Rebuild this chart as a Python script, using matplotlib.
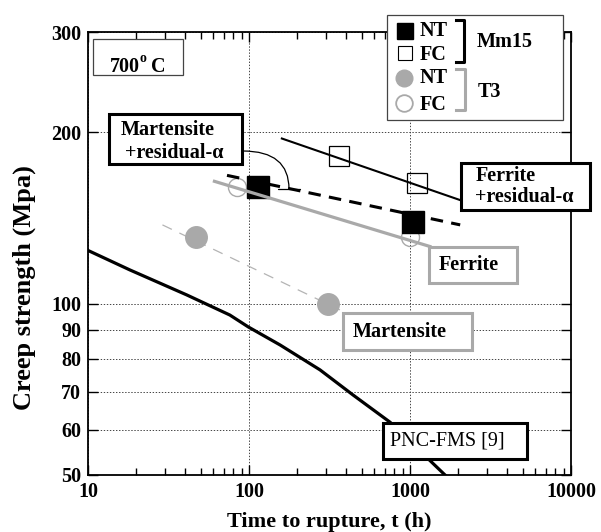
import matplotlib

matplotlib.use("Agg")
import matplotlib.pyplot as plt
from matplotlib.lines import Line2D
from matplotlib.patches import Rectangle, FancyArrowPatch
from matplotlib.ticker import LogLocator, NullLocator, NullFormatter

plt.rcParams["font.family"] = ["Liberation Serif", "DejaVu Serif"]
plt.rcParams["font.weight"] = "bold"
plt.rcParams["axes.labelweight"] = "bold"
plt.rcParams["lines.scale_dashes"] = False

W, H = 601, 532
GRAY = "#a9a9a9"

# Mm15 steel (squares): time to rupture (h), creep strength (MPa)
mm15_nt_t = [114, 1045]
mm15_nt_s = [160, 139]
mm15_fc_t = [362, 1110]
mm15_fc_s = [182, 163]

# T3 steel (circles)
t3_nt_t = [47, 310]
t3_nt_s = [131, 100]
t3_fc_t = [84, 1000]
t3_fc_s = [160, 131]

# trend lines drawn through each group
mm15_nt_fit_t = [73, 2050]
mm15_nt_fit_s = [168, 137.5]
mm15_fc_fit_t = [160, 2050]
mm15_fc_fit_s = [195, 152]
t3_nt_fit_t = [29, 367]
t3_nt_fit_s = [137.5, 97.5]
t3_fc_fit_t = [61, 1330]
t3_fc_fit_s = [164, 126]

# PNC-FMS reference curve [9]
pnc_t = [10, 18.2, 41, 76, 99, 156, 276, 443, 752, 1650]
pnc_s = [124, 114.6, 103.6, 95.5, 91, 84.6, 76.5, 69.1, 61.9, 50]

xtick_vals = [10, 100, 1000, 10000]
ytick_vals = [50, 60, 70, 80, 90, 100, 200, 300]


def fpx(x, y):
    """pixel position in the 601x532 image -> figure fraction"""
    return (x / W, 1 - y / H)


def box(fig, x0, y0, x1, y1, ec, lw):
    fig.add_artist(Rectangle(fpx(x0, y1), (x1 - x0) / W, (y1 - y0) / H,
                             transform=fig.transFigure, fc="white", ec=ec,
                             lw=lw, zorder=5))


def label(fig, x, y, s, ha="left", va="center", size=14.5, **kw):
    fig.text(*fpx(x, y), s, ha=ha, va=va, fontsize=size, zorder=6, **kw)


fig = plt.figure(figsize=(W / 100, H / 100), dpi=100)
ax = fig.add_axes([88 / W, 57 / H, 483 / W, 443 / H])

ax.plot(pnc_t, pnc_s, color="black", lw=2.3, zorder=2)
ax.plot(t3_nt_fit_t, t3_nt_fit_s, color="#b4b4b4", lw=0.9, dashes=(7.5, 6), zorder=2)
ax.plot(t3_fc_t, t3_fc_s, "o", ms=13, mfc="none", mec=GRAY, mew=1.0, zorder=3)
ax.plot(t3_nt_t, t3_nt_s, "o", ms=15.5, mfc=GRAY, mec=GRAY, zorder=3)
ax.plot(mm15_nt_fit_t, mm15_nt_fit_s, color="black", lw=2.2, dashes=(9, 6), zorder=3)
ax.plot(mm15_nt_t, mm15_nt_s, "s", ms=16.5, mfc="black", mec="black", zorder=4)
ax.plot(t3_fc_fit_t, t3_fc_fit_s, color=GRAY, lw=2.3, zorder=5)
ax.plot(mm15_fc_fit_t, mm15_fc_fit_s, color="black", lw=1.5, zorder=5)
ax.plot(mm15_fc_t, mm15_fc_s, "s", ms=15, mfc="none", mec="black", mew=0.9, zorder=5)

ax.set_xscale("log")
ax.set_yscale("log")
ax.set_xlim(10, 10000)
ax.set_ylim(50, 300)
ax.set_xticks(xtick_vals)
ax.set_xticklabels([str(v) for v in xtick_vals])
ax.xaxis.set_minor_locator(LogLocator(base=10, subs=range(2, 10)))
ax.xaxis.set_minor_formatter(NullFormatter())
ax.set_yticks(ytick_vals)
ax.set_yticklabels([str(v) for v in ytick_vals])
ax.yaxis.set_minor_locator(NullLocator())

ax.tick_params(which="both", direction="in", top=True, right=True, width=1.0,
               labelsize=14.5)
ax.tick_params(which="major", length=7, pad=5)
ax.tick_params(which="minor", length=5)
ax.grid(True, which="major", ls=(0, (1, 1.2)), color="#444444", lw=0.7)
for sp in ax.spines.values():
    sp.set_linewidth(1.3)

ax.set_xlabel("Time to rupture, t (h)", fontsize=16, labelpad=7)
ax.set_ylabel("Creep strength (Mpa)", fontsize=19)
ax.yaxis.set_label_coords(-0.107, 0.422)

# annotation boxes
box(fig, 93, 39, 183, 75, "#444444", 0.9)
label(fig, 110, 72, "700", va="baseline")
label(fig, 140, 62, "o", va="baseline", size=10)
label(fig, 151, 72, "C", va="baseline")

box(fig, 109, 114, 242, 164, "black", 2.2)
label(fig, 121, 130, "Martensite")
label(fig, 125, 153, "+residual-α")
fig.add_artist(FancyArrowPatch(fpx(243, 151), fpx(289, 189), transform=fig.transFigure,
                               connectionstyle="angle3,angleA=0,angleB=90",
                               arrowstyle="-[,widthB=1.0,lengthB=0",
                               mutation_scale=8, lw=0.9, color="black",
                               shrinkA=0, shrinkB=0, zorder=5))

box(fig, 461, 163, 590, 210, "black", 2.2)
label(fig, 476, 176, "Ferrite")
label(fig, 475, 197, "+residual-α")

box(fig, 429, 247, 517, 283, GRAY, 2.2)
label(fig, 469, 265, "Ferrite", ha="center")

box(fig, 343, 313, 472, 350, GRAY, 2.2)
label(fig, 400, 332, "Martensite", ha="center")

box(fig, 383, 423, 527, 459, "black", 2.2)
label(fig, 447, 441, "PNC-FMS [9]", ha="center", fontweight="normal")

# legend
box(fig, 387, 15, 563, 120, "#444444", 0.9)
legend_marks = [
    (405, 31, "s", 11.5, "black", "black", 1.0),
    (405, 53, "s", 9.5, "none", "black", 0.8),
    (404, 78, "o", 12, GRAY, GRAY, 1.0),
    (404, 103, "o", 12, "none", GRAY, 1.3),
]
for x, y, m, ms, fc, ec, mew in legend_marks:
    fx, fy = fpx(x, y)
    fig.add_artist(Line2D([fx], [fy], marker=m, ms=ms, mfc=fc, mec=ec, mew=mew,
                          transform=fig.transFigure, zorder=6))
label(fig, 420, 31, "NT")
label(fig, 420, 55, "FC")
label(fig, 420, 78, "NT")
label(fig, 420, 105, "FC")
for xs, ys, c in [((456, 464, 464, 456), (20, 20, 62, 62), "black"),
                  ((456, 465, 465, 456), (69, 69, 110, 110), GRAY)]:
    pts = [fpx(x, y) for x, y in zip(xs, ys)]
    fig.add_artist(Line2D([p[0] for p in pts], [p[1] for p in pts], color=c,
                          lw=2.2, transform=fig.transFigure, zorder=6))
label(fig, 477, 42, "Mm15")
label(fig, 478, 92, "T3")

fig.savefig("out.png", dpi=100)
